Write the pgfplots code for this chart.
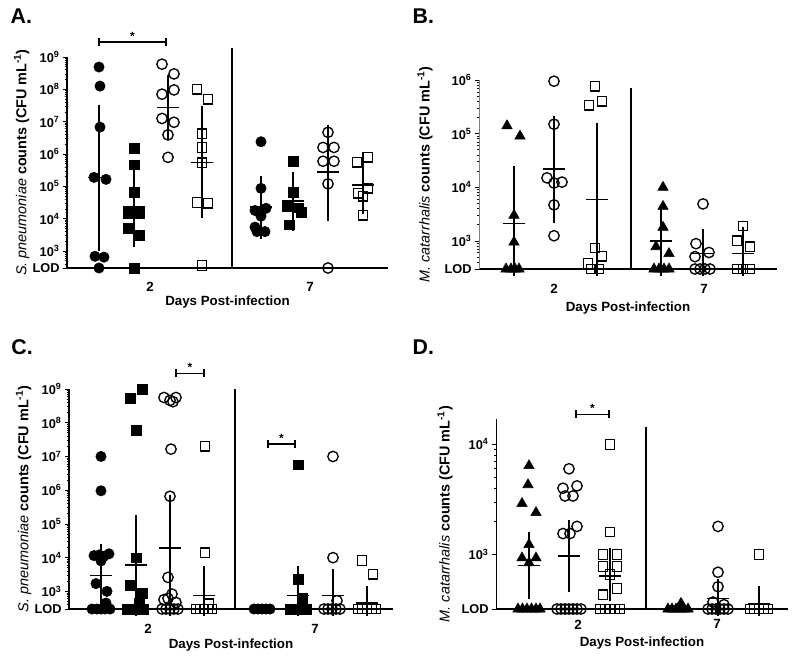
\documentclass[border=0pt]{standalone}
\usepackage{pgfplots}
\pgfplotsset{compat=1.18}
\usepackage{fontspec}
\setmainfont{Liberation Sans}
\newcommand{\tk}[1]{\textbf{10}\textsuperscript{#1}}
\newcommand{\lbl}{\fontsize{10}{12}\selectfont}
\newcommand{\tlbl}{\fontsize{9.6}{11}\selectfont}
\newcommand{\ylbl}{\fontsize{10.8}{13}\selectfont}

\pgfplotsset{
 mypanel/.style={
   scale only axis, clip=false,
   axis x line*=bottom, axis y line*=left,
   xtick style={draw=none},
   xticklabel style={font=\bfseries\lbl},
   yticklabel style={font=\bfseries\tlbl, xshift=1pt},
   tick align=outside,
   major tick length=3pt, minor tick length=1.6pt,
   x axis line style={line width=1.1pt},
   y axis line style={line width=1pt},
   ytick style={black, line width=0.6pt},
   ylabel style={font=\ylbl, anchor=center},
   xlabel style={font=\bfseries\lbl, anchor=center},
 },
 mkfc/.style={only marks, mark=*, mark size=3.9pt, black},
 mkfs/.style={only marks, mark=square*, mark size=3.6pt, black},
 mkoc/.style={only marks, mark=o, mark size=3.9pt, black, mark options={line width=1pt}},
 mkos/.style={only marks, mark=square, mark size=3.6pt, black, mark options={line width=1pt}},
 mkft/.style={only marks, mark=triangle*, mark size=4.5pt, black},
 mkmsd/.style={black, only marks, mark=-, mark size=8.6pt, mark options={line width=1pt},
   error bars/y dir=both, error bars/y explicit, error bars/error mark=-,
   error bars/error mark options={mark size=4.9pt, line width=1pt}, error bars/error bar style={line width=1pt}},
}

\begin{document}
\begin{tikzpicture}
\useasboundingbox (0,0) rectangle (600pt,-495.75pt);

\node[anchor=west, font=\bfseries\fontsize{16}{18}\selectfont] at (4.5pt,-12pt) {A.};
\node[anchor=west, font=\bfseries\fontsize{16}{18}\selectfont] at (306pt,-12pt) {B.};
\node[anchor=west, font=\bfseries\fontsize{16}{18}\selectfont] at (5pt,-260pt) {C.};
\node[anchor=west, font=\bfseries\fontsize{16}{18}\selectfont] at (306pt,-260pt) {D.};

% ---------------- Panel A ----------------
\begin{axis}[mypanel, ymode=log, at={(50.25pt,-201pt)}, anchor=south west,
  width=240.75pt, height=158.25pt,
  xmin=67, xmax=388, ymin=300, ymax=1e9,
  xtick={150,310}, xticklabels={2,7},
  xticklabel style={yshift=-4.3pt},
  ytick={1e3,1e4,1e5,1e6,1e7,1e8,1e9},
  yticklabels={\tk{3},\tk{4},\tk{5},\tk{6},\tk{7},\tk{8},\tk{9}},
  minor ytick={400,500,600,700,800,900,2e3,3e3,4e3,5e3,6e3,7e3,8e3,9e3,2e4,3e4,4e4,5e4,6e4,7e4,8e4,9e4,2e5,3e5,4e5,5e5,6e5,7e5,8e5,9e5,2e6,3e6,4e6,5e6,6e6,7e6,8e6,9e6,2e7,3e7,4e7,5e7,6e7,7e7,8e7,9e7,2e8,3e8,4e8,5e8,6e8,7e8,8e8,9e8},
  extra y ticks={300}, extra y tick labels={\textbf{LOD}},
  xlabel={Days Post-infection},
  xlabel style={at={([yshift=-25.5pt]rel axis cs:0.5,0)}},
  ylabel={{\itshape S. pneumoniae} \textbf{counts (CFU mL\textsuperscript{-1})}},
  ylabel style={at={([xshift=-34pt]rel axis cs:0,0.5)}},
]
\addplot[mkfc] coordinates {(99,4.9e8) (100,1.26e8) (100,6.8e6) (94,1.9e5) (106,1.65e5) (95,690) (104,650) (99,300)};
\addplot[mkfs] coordinates {(134,1.5e6) (134,4.6e5) (134,6.6e4) (128,1.5e4) (139,1.5e4) (128,5e3) (139,3.1e3) (134,300)};
\addplot[mkoc] coordinates {(162,6e8) (174,3e8) (162,7.1e7) (174,9.6e7) (162,1.26e7) (174,9.6e6) (168,3.9e6) (168,7.9e5)};
\addplot[mkos] coordinates {(197,1e8) (208,5e7) (202,4.2e6) (202,1.6e6) (202,5.3e5) (197,3.2e4) (208,3e4) (202,360)};
\addplot[mkfc] coordinates {(261,2.4e6) (261,8.7e4) (255,1.8e4) (266,2.1e4) (261,1.2e4) (255,5.5e3) (257,4e3) (265,4e3)};
\addplot[mkfs] coordinates {(293,6e5) (293,6.6e4) (287,2.4e4) (298,2.2e4) (301,1.6e4) (289,6.5e3)};
\addplot[mkoc] coordinates {(328,4.7e6) (323,1.6e6) (334,1.6e6) (323,6e5) (334,6e5) (328,1.2e5) (328,300)};
\addplot[mkos] coordinates {(357,5.6e5) (368,8e5) (358,6.2e4) (368,8.7e4) (363,5e4) (363,1.3e4)};
\addplot[mkmsd] table[x=x, y=m, y error plus expr=\thisrow{hi}-\thisrow{m}, y error minus expr=\thisrow{m}-\thisrow{lo}] {
x m lo hi
99 1.9e5 1.6e3 2.1e7
134 2.3e4 2.1e3 2.1e5
168 2.8e7 4.5e6 1.8e8
202 5.6e5 1.7e4 1.9e7
261 2.3e4 3.9e3 1.35e5
293 3.5e4 6.8e3 1.8e5
328 2.8e5 1.4e4 5.1e6
363 1.1e5 2.3e4 7.4e5
};
\draw[line width=1.5pt] (axis cs:232,300) -- (axis cs:232,1.9e9);
\draw[line width=0.9pt] (axis cs:99,2.9e9) -- (axis cs:166,2.9e9);
\draw[line width=0.9pt] ([yshift=-3pt]axis cs:99,2.9e9) -- ([yshift=3pt]axis cs:99,2.9e9);
\draw[line width=0.9pt] ([yshift=-3pt]axis cs:166,2.9e9) -- ([yshift=3pt]axis cs:166,2.9e9);
\node[above, inner sep=1pt, font=\bfseries\small] at (axis cs:132.5,2.9e9) {*};
\end{axis}

% ---------------- Panel B ----------------
\begin{axis}[mypanel, ymode=log, at={(359.25pt,-201.75pt)}, anchor=south west,
  width=223.5pt, height=141.75pt,
  xmin=479, xmax=777, ymin=300, ymax=1e6,
  xtick={554,704}, xticklabels={2,7},
  xticklabel style={yshift=-5pt},
  ytick={1e3,1e4,1e5,1e6},
  yticklabels={\tk{3},\tk{4},\tk{5},\tk{6}},
  minor ytick={400,500,600,700,800,900,2e3,3e3,4e3,5e3,6e3,7e3,8e3,9e3,2e4,3e4,4e4,5e4,6e4,7e4,8e4,9e4,2e5,3e5,4e5,5e5,6e5,7e5,8e5,9e5},
  extra y ticks={300}, extra y tick labels={\textbf{LOD}},
  y axis line style={line width=0.5pt, draw=gray},
  xlabel={Days Post-infection},
  xlabel style={at={([yshift=-29.25pt]rel axis cs:0.5,0)}},
  ylabel={{\itshape M. catarrhalis} \textbf{counts (CFU mL\textsuperscript{-1})}},
  ylabel style={at={([xshift=-40.5pt]rel axis cs:0,0.5)}},
]
\addplot[mkft] coordinates {(507,1.4e5) (520,9e4) (514,3e3) (514,950) (506,300) (511,300) (515,300) (519,300)};
\addplot[mkoc] coordinates {(554,9.5e5) (554,1.5e5) (547,1.5e4) (554,1.2e4) (562,1.25e4) (554,4.7e3) (554,1.25e3)};
\addplot[mkos] coordinates {(595,7.7e5) (589,3.4e5) (602,4e5) (595,740) (602,520) (588,380) (591,300) (599,300)};
\addplot[mkft] coordinates {(663,1e4) (663,4.4e3) (663,1.8e3) (656,780) (669,580) (654,300) (659,300) (664,300) (669,300)};
\addplot[mkoc] coordinates {(703,4.9e3) (696,890) (695,510) (709,610) (695,300) (700,300) (705,300) (710,300)};
\addplot[mkos] coordinates {(743,1.9e3) (737,1e3) (750,780) (737,300) (743,300) (750,300)};
\addplot[mkmsd] table[x=x, y=m, y error plus expr=\thisrow{hi}-\thisrow{m}, y error minus expr=\thisrow{m}-\thisrow{lo}] {
x m lo hi
514 2.1e3 300 1.9e4
554 2.2e4 2.8e3 1.6e5
597 5.9e3 300 1.2e5
661 1e3 300 3e3
703 580 300 1.26e3
743 580 300 1.35e3
};
\draw[line width=1.5pt] (axis cs:631,300) -- (axis cs:631,7.1e5);
\end{axis}

% ---------------- Panel C ----------------
\begin{axis}[mypanel, ymode=log, at={(51.75pt,-456.75pt)}, anchor=south west,
  width=243pt, height=165pt,
  xmin=69, xmax=393, ymin=300, ymax=1e9,
  xtick={148,315}, xticklabels={2,7},
  xticklabel style={yshift=-5pt},
  ytick={1e3,1e4,1e5,1e6,1e7,1e8,1e9},
  yticklabels={\tk{3},\tk{4},\tk{5},\tk{6},\tk{7},\tk{8},\tk{9}},
  minor ytick={400,500,600,700,800,900,2e3,3e3,4e3,5e3,6e3,7e3,8e3,9e3,2e4,3e4,4e4,5e4,6e4,7e4,8e4,9e4,2e5,3e5,4e5,5e5,6e5,7e5,8e5,9e5,2e6,3e6,4e6,5e6,6e6,7e6,8e6,9e6,2e7,3e7,4e7,5e7,6e7,7e7,8e7,9e7,2e8,3e8,4e8,5e8,6e8,7e8,8e8,9e8},
  extra y ticks={300}, extra y tick labels={\textbf{LOD}},
  xlabel={Days Post-infection},
  xlabel style={at={([yshift=-27pt]rel axis cs:0.5,0)}},
  ylabel={{\itshape S. pneumoniae} \textbf{counts (CFU mL\textsuperscript{-1})}},
  ylabel style={at={([xshift=-34pt]rel axis cs:0,0.5)}},
]
\addplot[mkfc] coordinates {(101,1e7) (101,9.6e5) (94,1.15e4) (99,1.2e4) (104,1.1e4) (109,1.3e4) (101,8e3) (96,1.7e3) (107,1e3) (106,450) (92,300) (97,300) (101,300) (105,300) (110,300)};
\addplot[mkfs] coordinates {(130,5.4e8) (142,1e9) (136,5.9e7) (136,9.8e3) (130,1.5e3) (142,890) (139,450) (127,300) (131,300) (135,300) (139,300) (143,300)};
\addplot[mkoc] coordinates {(164,5.6e8) (170,4.6e8) (176,5.6e8) (173,4.2e8) (171,1.65e7) (170,6.6e5) (168,2.6e3) (172,830) (164,570) (176,470) (168,620) (162,300) (166,300) (170,300) (174,300) (178,300)};
\addplot[mkos] coordinates {(205,2e7) (205,1.4e4) (209,430) (196,300) (200,300) (204,300) (208,300) (212,300)};
\addplot[mkfc] coordinates {(254,300) (258,300) (262,300) (266,300) (270,300)};
\addplot[mkfs] coordinates {(298,5.7e6) (298,2.3e3) (302,630) (290,300) (294,300) (298,300) (302,300) (306,300)};
\addplot[mkoc] coordinates {(333,1e7) (333,1e4) (337,530) (324,300) (328,300) (332,300) (336,300) (340,300)};
\addplot[mkos] coordinates {(362,8.2e3) (373,3.2e3) (358,300) (362.5,300) (367,300) (371.5,300) (376,300)};
\addplot[mkmsd] table[x=x, y=m, y error plus expr=\thisrow{hi}-\thisrow{m}, y error minus expr=\thisrow{m}-\thisrow{lo}] {
x m lo hi
101 2.9e3 530 1.6e4
136 6e3 300 1.15e5
170 1.95e4 300 4.7e5
204 760 300 3.5e3
298 760 300 3.5e3
333 760 300 2.9e3
367 450 300 900
};
\draw[line width=1.5pt] (axis cs:235,300) -- (axis cs:235,1e9);
\draw[line width=0.9pt] (axis cs:176,2.95e9) -- (axis cs:204,2.95e9);
\draw[line width=0.9pt] ([yshift=-3pt]axis cs:176,2.95e9) -- ([yshift=3pt]axis cs:176,2.95e9);
\draw[line width=0.9pt] ([yshift=-3pt]axis cs:204,2.95e9) -- ([yshift=3pt]axis cs:204,2.95e9);
\node[above, inner sep=1pt, font=\bfseries\small] at (axis cs:190,2.95e9) {*};
\draw[line width=0.9pt] (axis cs:268,2.35e7) -- (axis cs:295,2.35e7);
\draw[line width=0.9pt] ([yshift=-3pt]axis cs:268,2.35e7) -- ([yshift=3pt]axis cs:268,2.35e7);
\draw[line width=0.9pt] ([yshift=-3pt]axis cs:295,2.35e7) -- ([yshift=3pt]axis cs:295,2.35e7);
\node[above, inner sep=1pt, font=\bfseries\small] at (axis cs:281.5,2.35e7) {*};
\end{axis}

% ---------------- Panel D ----------------
\begin{axis}[mypanel, ymode=log, at={(372pt,-456.75pt)}, anchor=south west,
  width=219pt, height=142.5pt,
  xmin=496, xmax=788, ymin=320, ymax=1.7e4,
  xtick={578,717}, xticklabels={2,7},
  xticklabel style={yshift=-1.5pt},
  ytick={1e3,1e4},
  yticklabels={\tk{3},\tk{4}},
  extra y ticks={320}, extra y tick labels={\textbf{LOD}},
  y axis line style={line width=0.7pt},
  xlabel={Days Post-infection},
  xlabel style={at={([yshift=-25.5pt]rel axis cs:0.5,0)}},
  ylabel={{\itshape M. catarrhalis} \textbf{counts (CFU mL\textsuperscript{-1})}},
  ylabel style={at={([xshift=-38.25pt]rel axis cs:0,0.5)}},
]
\addplot[mkft] coordinates {(529,6.4e3) (528,4.3e3) (522,2.9e3) (536,2.4e3) (529,1.23e3) (522,930) (536,930) (529,840) (518,320) (522.5,320) (527,320) (531.5,320) (536,320) (540,320)};
\addplot[mkoc] coordinates {(569,6e3) (563,4e3) (577,4.2e3) (565,3.4e3) (573,3.4e3) (577,1.8e3) (563,1.55e3) (570,1.55e3) (557,320) (561,320) (565,320) (569,320) (573,320) (577,320) (581,320)};
\addplot[mkos] coordinates {(610,1e4) (610,1.6e3) (603,1e3) (617,1e3) (603,780) (617,780) (610,660) (617,490) (603,430) (600,320) (605,320) (610,320) (615,320) (620,320)};
\addplot[mkft] coordinates {(668,320) (672,320) (676,320) (680,320) (684,320) (688,320) (681,360)};
\addplot[mkoc] coordinates {(718,1.8e3) (718,690) (718,510) (713,370) (724,350) (708,320) (712,320) (716,320) (720,320) (724,320) (728,320)};
\addplot[mkos] coordinates {(759,1e3) (750,320) (754.5,320) (759,320) (763.5,320) (768,320)};
\addplot[mkmsd] table[x=x, y=m, y error plus expr=\thisrow{hi}-\thisrow{m}, y error minus expr=\thisrow{m}-\thisrow{lo}] {
x m lo hi
529 800 450 1.4e3
569 970 520 1.8e3
610 640 430 1e3
718 400 320 520
759 355 320 450
};
\draw[line width=1.5pt] (axis cs:646,320) -- (axis cs:646,1.43e4);
\draw[line width=0.9pt] (axis cs:576,1.87e4) -- (axis cs:609,1.87e4);
\draw[line width=0.9pt] ([yshift=-3pt]axis cs:576,1.87e4) -- ([yshift=3pt]axis cs:576,1.87e4);
\draw[line width=0.9pt] ([yshift=-3pt]axis cs:609,1.87e4) -- ([yshift=3pt]axis cs:609,1.87e4);
\node[above, inner sep=1pt, font=\bfseries\small] at (axis cs:592.5,1.87e4) {*};
\end{axis}
\end{tikzpicture}
\end{document}
